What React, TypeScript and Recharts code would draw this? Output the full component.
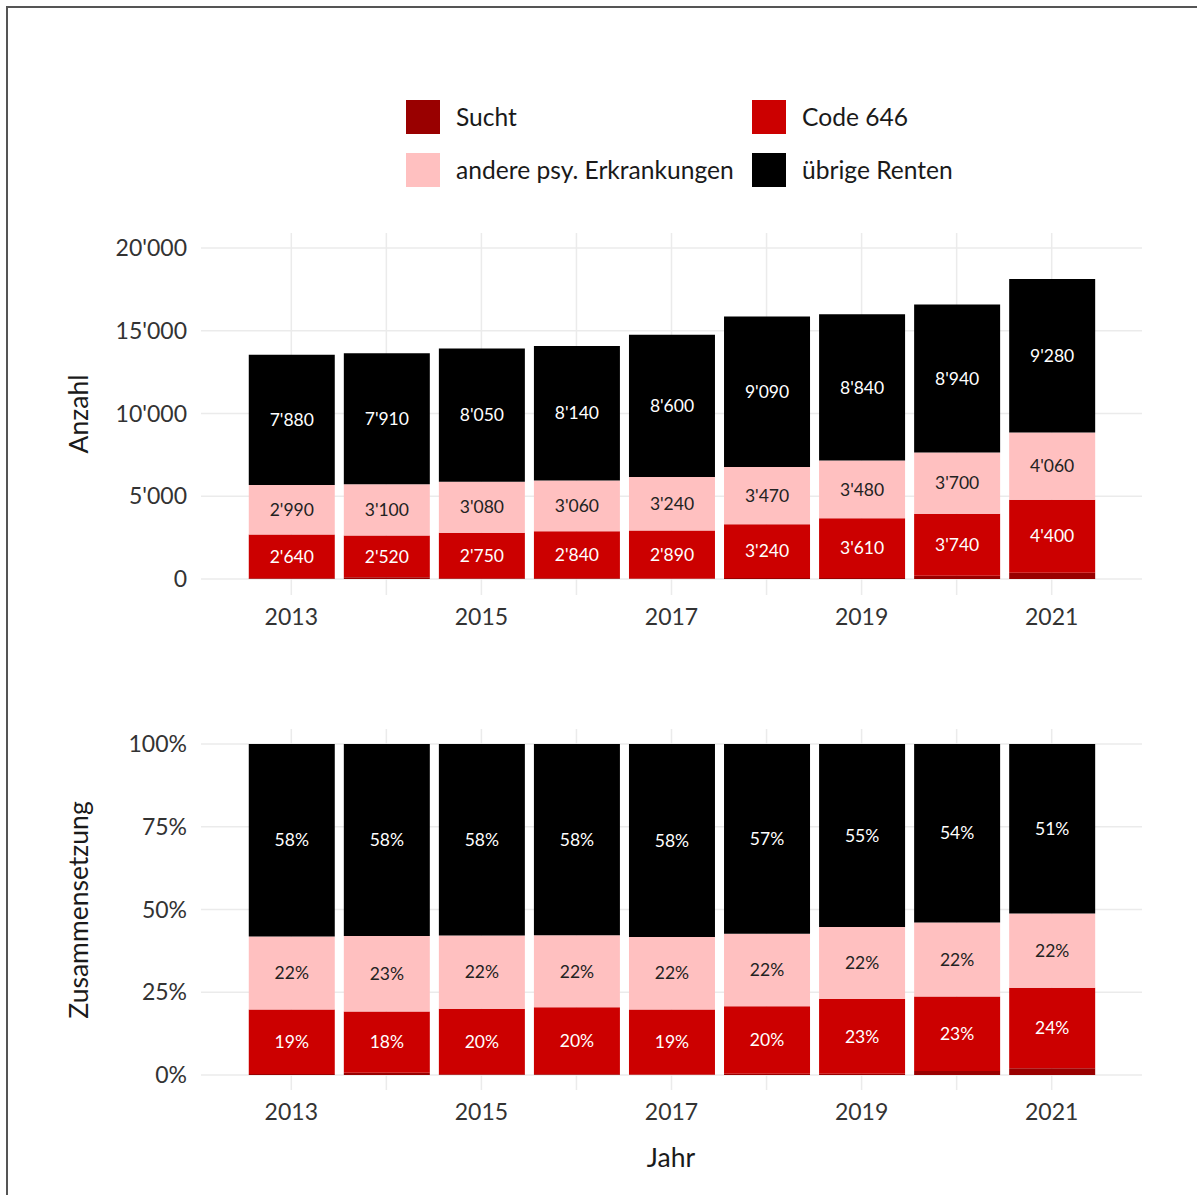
import React from "react";
import { BarChart, Bar, XAxis, YAxis, CartesianGrid, LabelList } from "recharts";

const years = [2013, 2014, 2015, 2016, 2017, 2018, 2019, 2020, 2021];
const sucht = [40, 100, 40, 40, 30, 60, 60, 200, 380];
const code646 = [2640, 2520, 2750, 2840, 2890, 3240, 3610, 3740, 4400];
const andere = [2990, 3100, 3080, 3060, 3240, 3470, 3480, 3700, 4060];
const uebrige = [7880, 7910, 8050, 8140, 8600, 9090, 8840, 8940, 9280];

// percentage labels as printed in the lower panel
const codeShareLabels = ["19%", "18%", "20%", "20%", "19%", "20%", "23%", "23%", "24%"];
const andereShareLabels = ["22%", "23%", "22%", "22%", "22%", "22%", "22%", "22%", "22%"];
const uebrigeShareLabels = ["58%", "58%", "58%", "58%", "58%", "57%", "55%", "54%", "51%"];

const xTicks = [2013, 2015, 2017, 2019, 2021];
const countTicks = [0, 5000, 10000, 15000, 20000];
const shareTicks = [0, 25, 50, 75, 100];

const COLORS = {
  sucht: "#990000",
  code: "#CC0000",
  andere: "#FFC0C0",
  uebrige: "#000000",
};

const FONT = "Lato, 'Open Sans', sans-serif";

const countRows = years.map((year, i) => ({
  year,
  sucht: sucht[i],
  code: code646[i],
  andere: andere[i],
  uebrige: uebrige[i],
}));

const shareRows = countRows.map((r, i) => {
  const total = r.sucht + r.code + r.andere + r.uebrige;
  return {
    year: r.year,
    sucht: (r.sucht / total) * 100,
    code: (r.code / total) * 100,
    andere: (r.andere / total) * 100,
    uebrige: (r.uebrige / total) * 100,
    codeLabel: codeShareLabels[i],
    andereLabel: andereShareLabels[i],
    uebrigeLabel: uebrigeShareLabels[i],
  };
});

const fmtThousands = (v: any) =>
  String(Math.round(Number(v))).replace(/\B(?=(\d{3})+(?!\d))/g, "'");

const tickStyle = { fontSize: 23, fill: "#333", fontFamily: FONT };
const whiteLabel = { fontSize: 17.5, fill: "#ffffff", fontFamily: FONT };
const darkLabel = { fontSize: 17.5, fill: "#222222", fontFamily: FONT };

const legendItems = [
  { name: "Sucht", color: COLORS.sucht, x: 406, y: 100 },
  { name: "Code 646", color: COLORS.code, x: 752, y: 100 },
  { name: "andere psy. Erkrankungen", color: COLORS.andere, x: 406, y: 153 },
  { name: "übrige Renten", color: COLORS.uebrige, x: 752, y: 153 },
];

const VerticalTitle = ({ text, cx, cy }: { text: string; cx: number; cy: number }) => (
  <div
    style={{
      position: "absolute",
      left: cx - 200,
      top: cy - 15,
      width: 400,
      height: 30,
      lineHeight: "30px",
      textAlign: "center",
      transform: "rotate(-90deg)",
      fontSize: 26.5,
      color: "#1a1a1a",
      fontFamily: FONT,
    }}
  >
    {text}
  </div>
);

export default function App() {
  return (
    <div
      style={{
        position: "absolute",
        left: 0,
        top: 0,
        width: 1197,
        height: 1195,
        background: "#fff",
        overflow: "hidden",
        fontFamily: FONT,
      }}
    >
      {legendItems.map((it) => (
        <div key={it.name}>
          <div
            style={{
              position: "absolute",
              left: it.x,
              top: it.y,
              width: 34,
              height: 34,
              background: it.color,
            }}
          />
          <div
            style={{
              position: "absolute",
              left: it.x + 50,
              top: it.y,
              height: 34,
              lineHeight: "34px",
              fontSize: 24.6,
              color: "#1a1a1a",
              whiteSpace: "nowrap",
            }}
          >
            {it.name}
          </div>
        </div>
      ))}

      <div style={{ position: "absolute", left: 0, top: 200 }}>
        <BarChart
          width={1197}
          height={450}
          data={countRows}
          margin={{ top: 33, right: 55, bottom: 0, left: 101 }}
        >
          <CartesianGrid
            stroke="#EBEBEB"
            strokeWidth={1.5}
            verticalValues={years}
            horizontalValues={countTicks}
          />
          <XAxis
            dataKey="year"
            type="number"
            domain={[2012.05, 2021.95]}
            ticks={xTicks}
            axisLine={false}
            tickLine={false}
            tickMargin={8}
            height={55}
            tick={tickStyle}
          />
          <YAxis
            type="number"
            domain={[-970, 20900]}
            ticks={countTicks}
            axisLine={false}
            tickLine={false}
            tickMargin={8}
            width={100}
            tickFormatter={fmtThousands}
            tick={tickStyle}
          />
          <Bar dataKey="sucht" stackId="a" fill={COLORS.sucht} barSize={86} isAnimationActive={false} />
          <Bar dataKey="code" stackId="a" fill={COLORS.code} barSize={86} isAnimationActive={false}>
            <LabelList dataKey="code" position="center" formatter={fmtThousands} style={whiteLabel} />
          </Bar>
          <Bar dataKey="andere" stackId="a" fill={COLORS.andere} barSize={86} isAnimationActive={false}>
            <LabelList dataKey="andere" position="center" formatter={fmtThousands} style={darkLabel} />
          </Bar>
          <Bar dataKey="uebrige" stackId="a" fill={COLORS.uebrige} barSize={86} isAnimationActive={false}>
            <LabelList dataKey="uebrige" position="center" formatter={fmtThousands} style={whiteLabel} />
          </Bar>
        </BarChart>
      </div>

      <div style={{ position: "absolute", left: 0, top: 700 }}>
        <BarChart
          width={1197}
          height={430}
          data={shareRows}
          margin={{ top: 29, right: 55, bottom: 0, left: 101 }}
        >
          <CartesianGrid
            stroke="#EBEBEB"
            strokeWidth={1.5}
            verticalValues={years}
            horizontalValues={shareTicks}
          />
          <XAxis
            dataKey="year"
            type="number"
            domain={[2012.05, 2021.95]}
            ticks={xTicks}
            axisLine={false}
            tickLine={false}
            tickMargin={8}
            height={40}
            tick={tickStyle}
          />
          <YAxis
            type="number"
            domain={[-4.5, 104.5]}
            ticks={shareTicks}
            axisLine={false}
            tickLine={false}
            tickMargin={8}
            width={100}
            tickFormatter={(v: any) => `${v}%`}
            tick={tickStyle}
          />
          <Bar dataKey="sucht" stackId="b" fill={COLORS.sucht} barSize={86} isAnimationActive={false} />
          <Bar dataKey="code" stackId="b" fill={COLORS.code} barSize={86} isAnimationActive={false}>
            <LabelList dataKey="codeLabel" position="center" style={whiteLabel} />
          </Bar>
          <Bar dataKey="andere" stackId="b" fill={COLORS.andere} barSize={86} isAnimationActive={false}>
            <LabelList dataKey="andereLabel" position="center" style={darkLabel} />
          </Bar>
          <Bar dataKey="uebrige" stackId="b" fill={COLORS.uebrige} barSize={86} isAnimationActive={false}>
            <LabelList dataKey="uebrigeLabel" position="center" style={whiteLabel} />
          </Bar>
        </BarChart>
      </div>

      <VerticalTitle text="Anzahl" cx={78} cy={414} />
      <VerticalTitle text="Zusammensetzung" cx={78} cy={910} />

      <div
        style={{
          position: "absolute",
          left: 571,
          top: 1141,
          width: 200,
          textAlign: "center",
          fontSize: 26.5,
          color: "#1a1a1a",
        }}
      >
        Jahr
      </div>

      <div
        style={{
          position: "absolute",
          left: 6,
          top: 6,
          width: 1300,
          height: 1300,
          borderTop: "2px solid #555",
          borderLeft: "2px solid #555",
          pointerEvents: "none",
          zIndex: 10,
        }}
      />
    </div>
  );
}
